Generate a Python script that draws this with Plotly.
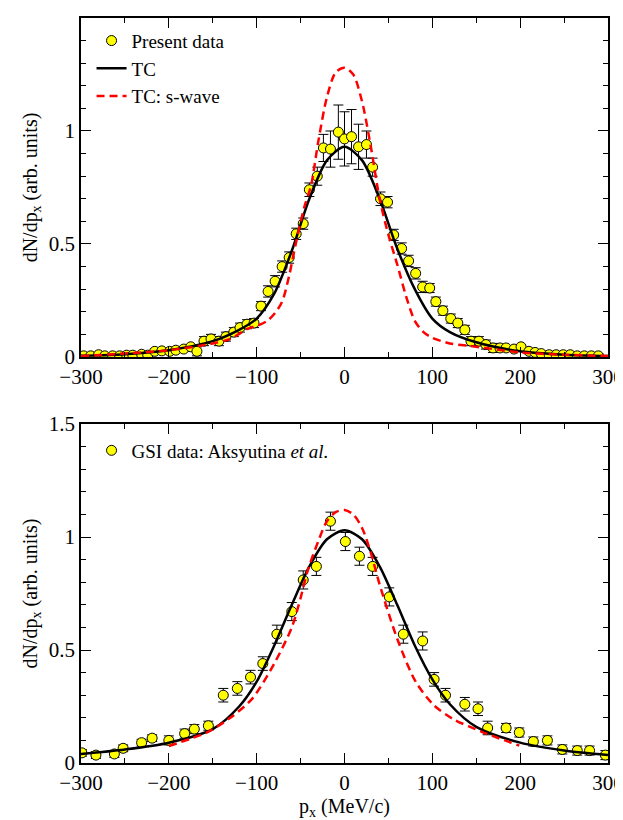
import plotly.graph_objects as go

# Top panel: present data
top_x = [-297,-289,-280,-273,-264,-256,-248,-241,-231,-224,-216,-208,-199,-192,-183,-175,-168,-160,-152,-143,-135,-126,-119,-111,-103,-95,-87,-79,-71,-63,-55,-47,-40,-31,-24,-16,-7,0,8,16,25,32,41,49,56,65,73,81,89,97,104,112,121,129,137,144,153,161,169,177,184,193,201,210,217,224,233,241,249,257,265,273,281,289]
top_y = [0.005,0.005,0.01,0.005,0.005,0.005,0.008,0.008,0.012,0.008,0.025,0.027,0.025,0.03,0.035,0.045,0.025,0.07,0.08,0.07,0.09,0.11,0.13,0.145,0.15,0.225,0.29,0.335,0.40,0.44,0.545,0.59,0.74,0.80,0.925,0.92,0.995,0.965,0.975,0.93,0.94,0.84,0.70,0.685,0.54,0.48,0.425,0.37,0.31,0.305,0.245,0.205,0.17,0.15,0.12,0.07,0.07,0.055,0.04,0.04,0.04,0.035,0.045,0.025,0.02,0.015,0.01,0.01,0.01,0.01,0.005,0.005,0.005,0.005]
top_err = [0.01]*16 + [0.02]*10 + [0.025]*6 + [0.03,0.04,0.06,0.08,0.12,0.12,0.12,0.1,0.06,0.04,0.03] + [0.025]*6 + [0.02]*10 + [0.01]*15

tc_top_x = [-300,-250,-200,-150,-120,-100,-80,-60,-40,-20,0,20,40,60,80,100,120,150,200,250,300]
tc_top_y = [0.005,0.012,0.03,0.07,0.12,0.17,0.28,0.47,0.70,0.87,0.93,0.87,0.70,0.48,0.30,0.17,0.11,0.065,0.025,0.01,0.004]
sw_top_x = [-300,-200,-150,-130,-110,-95,-88,-80,-71,-63,-55,-46,-38,-30,-20,-10,0,10,20,30,40,50,60,70,80,90,100,120,140,160,200,250,300]
sw_top_y = [0.004,0.03,0.06,0.08,0.125,0.145,0.16,0.19,0.245,0.36,0.51,0.66,0.76,0.95,1.15,1.26,1.28,1.25,1.13,0.93,0.70,0.54,0.41,0.27,0.16,0.11,0.085,0.06,0.05,0.04,0.02,0.01,0.004]

# Bottom panel: GSI data
bot_x = [-299,-283,-262,-252,-231,-219,-200,-182,-171,-155,-138,-122,-107,-93,-77,-60,-47,-32,-16,1,17,32,51,67,89,102,115,137,152,163,184,199,215,231,248,265,279,297]
bot_y = [0.045,0.035,0.04,0.065,0.09,0.11,0.10,0.13,0.15,0.165,0.30,0.33,0.38,0.44,0.57,0.67,0.81,0.87,1.07,0.98,0.915,0.87,0.735,0.57,0.54,0.37,0.30,0.26,0.24,0.155,0.155,0.135,0.095,0.10,0.06,0.055,0.055,0.035]
bot_err = [0.015]*6 + [0.02]*4 + [0.03]*4 + [0.04]*11 + [0.03]*5 + [0.02]*8

tc_bot_x = [-300,-250,-200,-150,-120,-100,-80,-60,-40,-20,0,20,40,60,80,100,120,150,200,250,300]
tc_bot_y = [0.04,0.06,0.09,0.15,0.25,0.36,0.52,0.70,0.87,0.99,1.03,0.99,0.87,0.70,0.52,0.37,0.26,0.16,0.09,0.055,0.035]
sw_bot_x = [-200,-156,-130,-105,-80,-60,-50,-42,-30,-20,-10,0,10,20,30,40,60,81,102,123,157,199]
sw_bot_y = [0.075,0.137,0.20,0.285,0.44,0.60,0.73,0.85,0.98,1.07,1.11,1.12,1.10,1.04,0.93,0.79,0.55,0.36,0.255,0.196,0.137,0.077]

FONT = "Liberation Serif"
fig = go.Figure()
mk = dict(color="yellow", size=10, line=dict(color="black", width=1))
eb = lambda e: dict(type="data", array=e, color="black", thickness=1, width=5)
sol = dict(color="black", width=2.5, shape="spline", smoothing=0.8)
dsh = dict(color="red", width=2.5, dash="8px,5px", shape="spline", smoothing=0.8)

fig.add_trace(go.Scatter(x=top_x, y=top_y, xaxis="x", yaxis="y", mode="markers", marker=mk, error_y=eb(top_err), name="Present data", legend="legend"))
fig.add_trace(go.Scatter(x=tc_top_x, y=tc_top_y, xaxis="x", yaxis="y", mode="lines", line=sol, name="TC", legend="legend"))
fig.add_trace(go.Scatter(x=sw_top_x, y=sw_top_y, xaxis="x", yaxis="y", mode="lines", line=dsh, name="TC: s-wave", legend="legend"))

fig.add_trace(go.Scatter(x=bot_x, y=bot_y, xaxis="x2", yaxis="y2", mode="markers", marker=mk, error_y=eb(bot_err), name="GSI data: Aksyutina <i>et al.</i>", legend="legend2"))
fig.add_trace(go.Scatter(x=tc_bot_x, y=tc_bot_y, xaxis="x2", yaxis="y2", mode="lines", line=sol, showlegend=False))
fig.add_trace(go.Scatter(x=sw_bot_x, y=sw_bot_y, xaxis="x2", yaxis="y2", mode="lines", line=dsh, showlegend=False))

ax = dict(showgrid=False, zeroline=False, showline=True, linecolor="black", linewidth=1.5, mirror="ticks", automargin=False,
          ticks="inside", ticklen=10, tickcolor="black", tickwidth=1.2, tickfont=dict(size=21, family=FONT, color="black"))
xax = dict(range=[-300, 300], dtick=100, minor=dict(dtick=50, ticks="inside", ticklen=5, tickcolor="black"), **ax)
yax = dict(range=[0, 1.5], tickvals=[0, 0.5, 1, 1.5], ticktext=["0", "0.5", "1", "1.5"],
           minor=dict(dtick=0.1, ticks="inside", ticklen=5, tickcolor="black"),
           title=dict(text="dN/dp<sub>x</sub> (arb. units)", font=dict(size=20, family=FONT, color="black"), standoff=6), **ax)

fig.update_layout(
    width=623, height=820, plot_bgcolor="white", paper_bgcolor="white",
    margin=dict(l=73, r=23, t=10, b=65, autoexpand=False),
    font=dict(family=FONT, color="black", size=19),
    xaxis=dict(domain=[0, 1], anchor="y", **xax),
    yaxis=dict(domain=[0.545, 1], anchor="x", **yax),
    xaxis2=dict(domain=[0, 1], anchor="y2",
                title=dict(text="p<sub>x</sub> (MeV/c)", font=dict(size=20, family=FONT, color="black"), standoff=2), **xax),
    yaxis2=dict(domain=[0, 0.455], anchor="x2", **yax),
    legend=dict(x=0.02, y=0.995, xanchor="left", yanchor="top", bgcolor="rgba(0,0,0,0)", font=dict(size=19, family=FONT), tracegroupgap=0),
    legend2=dict(x=0.02, y=0.445, xanchor="left", yanchor="top", bgcolor="rgba(0,0,0,0)", font=dict(size=19, family=FONT)))
fig.write_html("out.html")
